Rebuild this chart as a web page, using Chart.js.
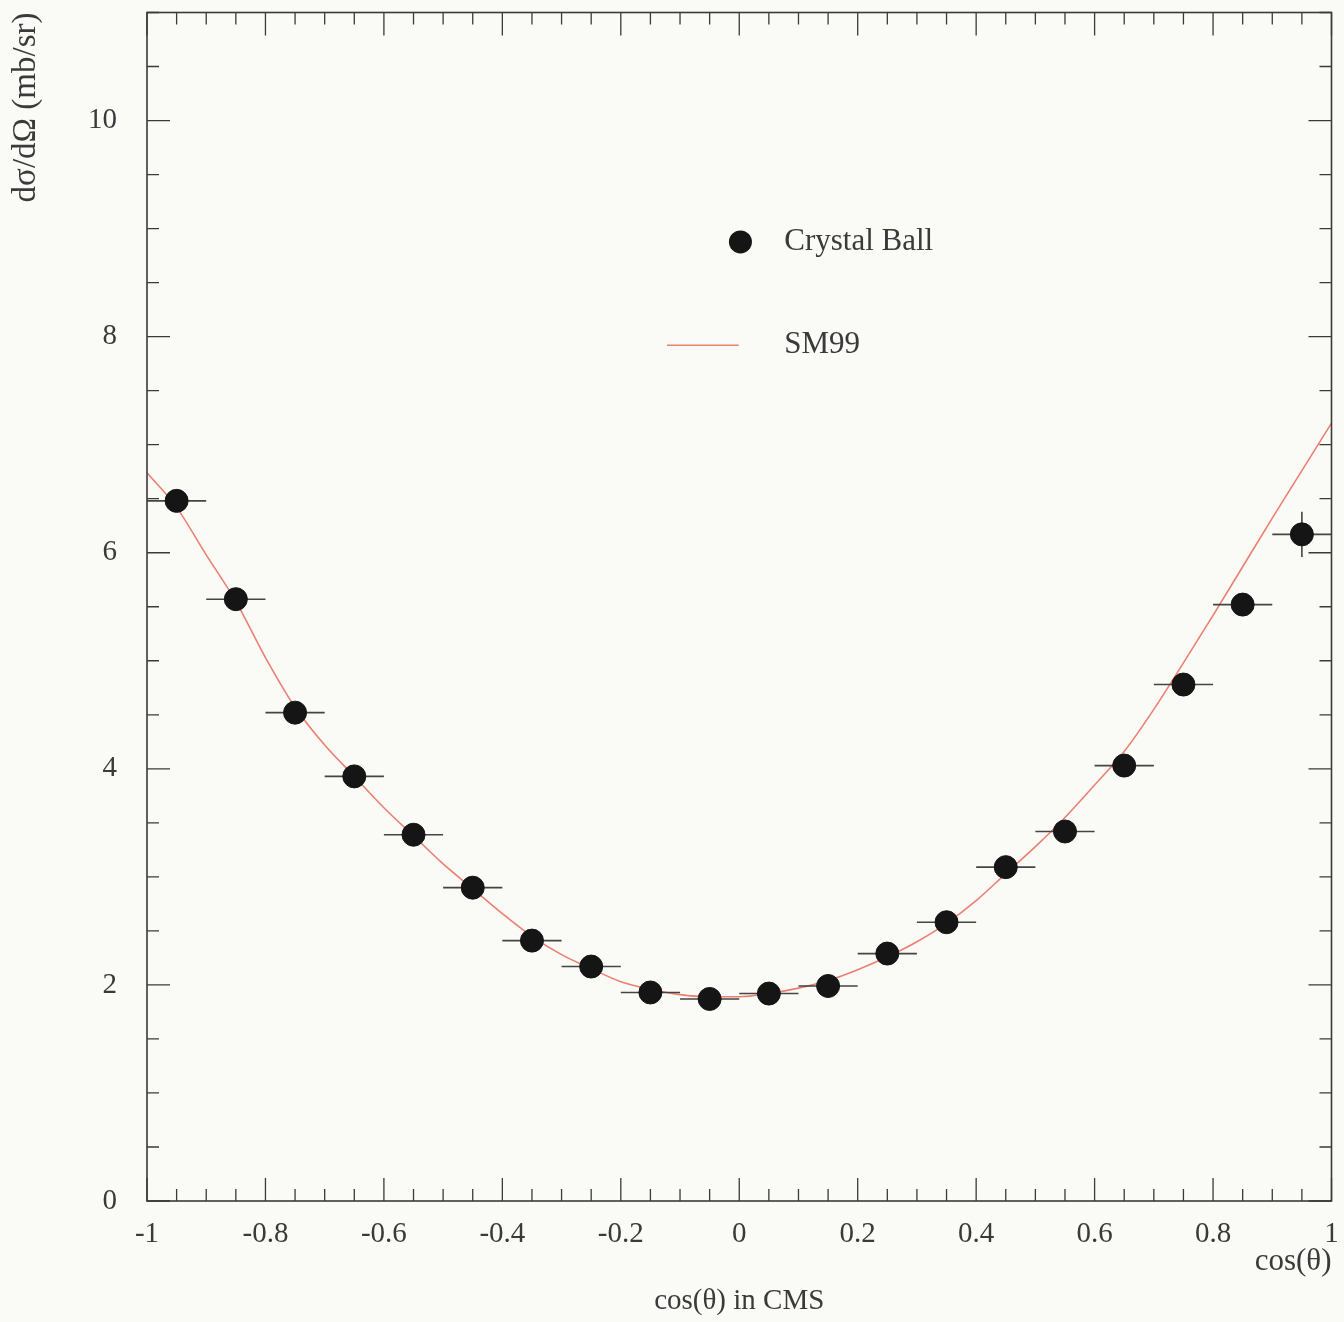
<!DOCTYPE html>
<html>
<head>
<meta charset="utf-8">
<script src="https://cdn.jsdelivr.net/npm/chart.js@4.4.1/dist/chart.umd.min.js"></script>
<style>
    html, body { margin: 0; padding: 0; background: #fafaf7; }
    #wrap { width: 1344px; height: 1322px; }
</style>
</head>
<body>
<div id="wrap"><canvas id="xsecChart"></canvas></div>
<script>
// Crystal Ball points: bin centres, half bin widths, values and errors
const BIN_CENTERS = [-0.95, -0.85, -0.75, -0.65, -0.55, -0.45, -0.35, -0.25, -0.15, -0.05,
                      0.05,  0.15,  0.25,  0.35,  0.45,  0.55,  0.65,  0.75,  0.85,  0.95];
const BIN_HALF = [0.05, 0.05, 0.05, 0.05, 0.05, 0.05, 0.05, 0.05, 0.05, 0.05,
                  0.05, 0.05, 0.05, 0.05, 0.05, 0.05, 0.05, 0.05, 0.05, 0.05];
const CB_VALUES = [6.48, 5.57, 4.52, 3.93, 3.39, 2.90, 2.41, 2.17, 1.93, 1.87,
                   1.92, 1.99, 2.29, 2.58, 3.09, 3.42, 4.03, 4.78, 5.52, 6.17];
const CB_ERRORS = [0.08, 0.07, 0.06, 0.05, 0.05, 0.04, 0.04, 0.04, 0.04, 0.04,
                   0.04, 0.04, 0.04, 0.05, 0.05, 0.05, 0.06, 0.07, 0.10, 0.21];

// SM99 curve
const SM99_COS = [-1, -0.95, -0.9, -0.85, -0.8, -0.75, -0.7, -0.65, -0.6, -0.55, -0.5,
                  -0.45, -0.4, -0.35, -0.3, -0.25, -0.2, -0.15, -0.1, -0.05, 0,
                  0.05, 0.1, 0.15, 0.2, 0.25, 0.3, 0.35, 0.4, 0.45, 0.5,
                  0.55, 0.6, 0.65, 0.7, 0.75, 0.8, 0.85, 0.9, 0.95, 1];
const SM99_VALUES = [6.74, 6.42, 5.98, 5.55, 5.03, 4.57, 4.22, 3.93, 3.64, 3.38, 3.12,
                     2.89, 2.66, 2.45, 2.28, 2.15, 2.03, 1.96, 1.91, 1.89, 1.89,
                     1.92, 1.97, 2.04, 2.14, 2.26, 2.40, 2.57, 2.78, 3.03, 3.28,
                     3.55, 3.85, 4.16, 4.55, 4.98, 5.42, 5.87, 6.32, 6.76, 7.20];

const X_TICKS = [-1, -0.8, -0.6, -0.4, -0.2, 0, 0.2, 0.4, 0.6, 0.8, 1];
const Y_TICKS = [0, 2, 4, 6, 8, 10];

const FONT = 'Liberation Serif, Times New Roman, serif';
const INK = '#3a3a3a';
const CURVE_RED = 'rgb(236, 128, 112)';

// horizontal and vertical error bars, drawn just before the markers
const errorBars = {
    id: 'errorBars',
    beforeDatasetDraw(chart, args) {
        if (args.index !== 0) return;
        const ctx = chart.ctx;
        const xs = chart.scales.x, ys = chart.scales.y;
        ctx.save();
        ctx.strokeStyle = '#444';
        ctx.lineWidth = 1.6;
        BIN_CENTERS.forEach((c, i) => {
            const y = ys.getPixelForValue(CB_VALUES[i]);
            const x = xs.getPixelForValue(c);
            ctx.beginPath();
            ctx.moveTo(xs.getPixelForValue(c - BIN_HALF[i]), y);
            ctx.lineTo(xs.getPixelForValue(c + BIN_HALF[i]), y);
            ctx.moveTo(x, ys.getPixelForValue(CB_VALUES[i] - CB_ERRORS[i]));
            ctx.lineTo(x, ys.getPixelForValue(CB_VALUES[i] + CB_ERRORS[i]));
            ctx.stroke();
        });
        ctx.restore();
    }
};

// frame with inward ticks on all four sides, legend and the extra axis label
const frameAndLegend = {
    id: 'frameAndLegend',
    afterDraw(chart) {
        const ctx = chart.ctx;
        const a = chart.chartArea;
        const xs = chart.scales.x, ys = chart.scales.y;
        ctx.save();
        ctx.strokeStyle = INK;
        ctx.lineWidth = 1.6;
        ctx.strokeRect(a.left, a.top, a.right - a.left, a.bottom - a.top);

        ctx.lineWidth = 1.3;
        ctx.beginPath();
        for (let k = 0; k <= 40; k++) {
            const v = -1 + k * 0.05;
            const len = (k % 4 === 0) ? 23 : 12;
            const px = xs.getPixelForValue(v);
            ctx.moveTo(px, a.bottom); ctx.lineTo(px, a.bottom - len);
            ctx.moveTo(px, a.top); ctx.lineTo(px, a.top + len);
        }
        for (let k = 0; k <= 22; k++) {
            const v = k * 0.5;
            const len = (k % 4 === 0) ? 23 : 12;
            const py = ys.getPixelForValue(v);
            ctx.moveTo(a.left, py); ctx.lineTo(a.left + len, py);
            ctx.moveTo(a.right, py); ctx.lineTo(a.right - len, py);
        }
        ctx.stroke();

        // legend inside the plot
        const w = a.right - a.left, h = a.bottom - a.top;
        const ds = chart.data.datasets;
        ctx.font = '31px ' + FONT;
        ctx.fillStyle = INK;
        ctx.textBaseline = 'middle';
        ctx.textAlign = 'left';

        ctx.beginPath();
        ctx.arc(a.left + 0.501 * w, a.top + 0.193 * h, 11.5, 0, Math.PI * 2);
        ctx.fillStyle = '#151515';
        ctx.fill();
        ctx.fillStyle = INK;
        ctx.fillText(ds[0].label, a.left + 0.538 * w, a.top + 0.193 * h);

        ctx.strokeStyle = CURVE_RED;
        ctx.lineWidth = 1.6;
        ctx.beginPath();
        ctx.moveTo(a.left + 0.439 * w, a.top + 0.280 * h);
        ctx.lineTo(a.left + 0.4996 * w, a.top + 0.280 * h);
        ctx.stroke();
        ctx.fillText(ds[1].label, a.left + 0.538 * w, a.top + 0.280 * h);

        ctx.textAlign = 'right';
        ctx.fillText('cos(θ)', a.right, xs.top + 61);
        ctx.restore();
    }
};

new Chart(document.getElementById('xsecChart'), {
    type: 'scatter',
    data: {
        datasets: [{
            label: 'Crystal Ball',
            data: BIN_CENTERS.map((c, i) => ({ x: c, y: CB_VALUES[i] })),
            backgroundColor: '#151515',
            borderColor: '#151515',
            pointRadius: 11.5,
            pointHoverRadius: 11.5,
            order: 0
        }, {
            label: 'SM99',
            type: 'line',
            data: SM99_COS.map((c, i) => ({ x: c, y: SM99_VALUES[i] })),
            borderColor: CURVE_RED,
            borderWidth: 1.6,
            pointRadius: 0,
            showLine: true,
            cubicInterpolationMode: 'monotone',
            fill: false,
            order: 1
        }]
    },
    options: {
        responsive: true,
        maintainAspectRatio: false,
        animation: false,
        layout: { padding: { top: 12, right: 10, left: 0, bottom: 0 } },
        plugins: {
            legend: { display: false },
            tooltip: { enabled: false }
        },
        scales: {
            x: {
                type: 'linear',
                min: -1,
                max: 1,
                afterBuildTicks: scale => { scale.ticks = X_TICKS.map(v => ({ value: v })); },
                afterFit: scale => {
                    scale.height = 121;
                    scale.paddingLeft = 0;
                    scale.paddingRight = 0;
                },
                grid: { display: false },
                border: { display: false },
                ticks: {
                    padding: 8,
                    color: INK,
                    font: { family: FONT, size: 29 },
                    maxRotation: 0,
                    callback: v => String(Math.round(v * 10) / 10)
                },
                title: {
                    display: true,
                    text: 'cos(θ) in CMS',
                    color: INK,
                    font: { family: FONT, size: 29 },
                    padding: { top: 0, bottom: 3 }
                }
            },
            y: {
                type: 'linear',
                min: 0,
                max: 11,
                afterBuildTicks: scale => { scale.ticks = Y_TICKS.map(v => ({ value: v })); },
                afterFit: scale => {
                    scale.width = 147;
                    scale.paddingTop = 0;
                    scale.paddingBottom = 0;
                },
                grid: { display: false },
                border: { display: false },
                ticks: {
                    padding: 22,
                    color: INK,
                    font: { family: FONT, size: 29 }
                },
                title: {
                    display: true,
                    text: 'dσ/dΩ (mb/sr)',
                    align: 'end',
                    color: INK,
                    font: { family: FONT, size: 33 },
                    padding: { top: 7 }
                }
            }
        }
    },
    plugins: [errorBars, frameAndLegend]
});
</script>
</body>
</html>
